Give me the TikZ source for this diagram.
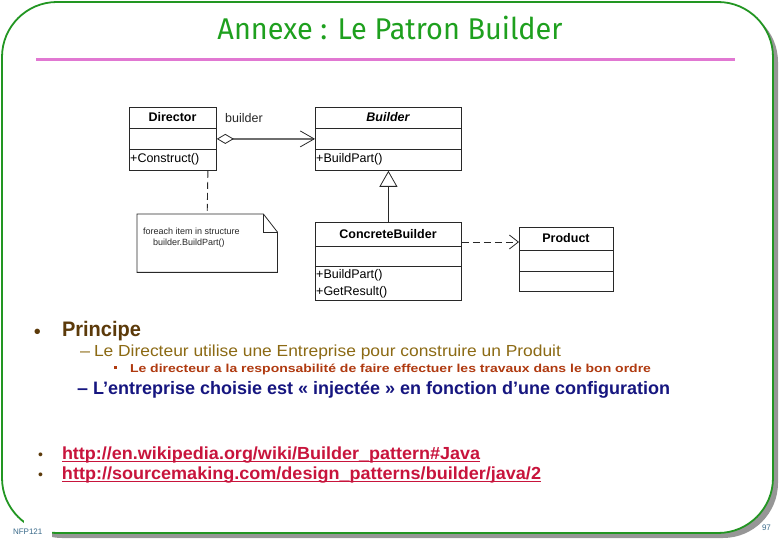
\documentclass[tikz,border=0pt]{standalone}
\usepackage{fontspec}
\setmainfont{Liberation Sans}
\newfontfamily\titlefont{Fira Sans}
\usetikzlibrary{arrows.meta,shapes.geometric}
\definecolor{framegreen}{RGB}{34,150,34}
\definecolor{titlegreen}{RGB}{30,160,30}
\definecolor{pinkline}{RGB}{225,120,210}
\definecolor{shadowgray}{RGB}{150,150,150}
\definecolor{lvlone}{RGB}{92,58,10}
\definecolor{lvltwo}{RGB}{140,106,20}
\definecolor{lvlthree}{RGB}{176,58,16}
\definecolor{navy}{RGB}{22,22,128}
\definecolor{linkred}{RGB}{200,20,60}
\definecolor{footblue}{RGB}{58,106,138}
\definecolor{umlline}{RGB}{40,40,40}
\definecolor{agggray}{RGB}{110,110,110}
\newcommand{\fitw}[2]{\resizebox{#1}{\height}{#2}}
\begin{document}
\begin{tikzpicture}[x=1pt,y=-1pt,
  txt/.style={inner sep=0pt, outer sep=0pt, anchor=base west},
  umlbox/.style={draw=umlline, line width=0.8pt, anchor=north west, inner sep=0pt, minimum width=#1},
  umlname/.style={inner sep=0pt, anchor=base, font=\fontsize{12.5}{14}\selectfont\bfseries},
  umlop/.style={inner sep=0pt, anchor=base west, font=\fontsize{12.5}{14}\selectfont},
  sepline/.style={draw=umlline, line width=0.8pt},
  agg/.style={draw=agggray, line width=2pt, {Diamond[open,length=17pt,width=10pt,line width=0.8pt,color=umlline]}-{Straight Barb[length=14pt,width=16pt,line width=0.8pt,color=umlline]}},
  gen/.style={draw=umlline, line width=0.9pt, -{Triangle[open,length=16pt,width=18pt,line width=0.8pt]}},
  dep/.style={draw=umlline, line width=0.9pt, dash pattern=on 7pt off 4pt, -{Straight Barb[length=9pt,width=14pt,line width=0.8pt]}},
  notelink/.style={draw=umlline, line width=0.9pt, dash pattern=on 7pt off 4pt},
]
\useasboundingbox (0,0) rectangle (780,540);
% frame with shadow
\fill[shadowgray, rounded corners=55pt] (7,7) rectangle (778,538);
\fill[white, rounded corners=55pt] (2,2) rectangle (773,533);
\draw[framegreen, line width=1.8pt, rounded corners=55pt] (2,2) rectangle (773,533);
\fill[white] (24,512) rectangle (52,539);
\node[txt, text=footblue, font=\fontsize{8}{9}\selectfont] (foot) at (13,534) {NFP121};
\node[txt, text=footblue, font=\fontsize{8}{9}\selectfont] (pagenum) at (762,530) {97};
% title
\node[inner sep=0pt, anchor=base, text=titlegreen, font=\titlefont\fontsize{30}{33}\selectfont] (title) at (390,40) {\fitw{345pt}{Annexe : Le Patron Builder}};
\coordinate (pinkL) at (36,60);
\coordinate (pinkR) at (735,60);
\draw[pinkline, line width=3pt] (pinkL) -- (pinkR);
% UML boxes
\node[umlbox=87pt, minimum height=63pt] (director) at (129,107) {};
\draw[sepline] (129,128) -- (216,128);
\draw[sepline] (129,149) -- (216,149);
\node[umlname] (directorT) at (172.5,121.5) {Director};
\node[umlop] (directorM) at (130,163) {+Construct()};

\node[umlbox=146pt, minimum height=63pt] (builder) at (315,107) {};
\draw[sepline] (315,128) -- (461,128);
\draw[sepline] (315,149) -- (461,149);
\node[umlname, font=\fontsize{12.5}{14}\selectfont\bfseries\itshape] (builderT) at (388,121.5) {Builder};
\node[umlop] (builderM) at (316,163) {+BuildPart()};

\node[umlbox=146pt, minimum height=78pt] (concrete) at (315,222) {};
\draw[sepline] (315,246) -- (461,246);
\draw[sepline] (315,266) -- (461,266);
\node[umlname] (concreteT) at (388,238.5) {ConcreteBuilder};
\node[umlop] (concreteM1) at (316,279) {+BuildPart()};
\node[umlop] (concreteM2) at (316,296) {+GetResult()};

\node[umlbox=94pt, minimum height=64pt] (product) at (519,227) {};
\draw[sepline] (519,250) -- (613,250);
\draw[sepline] (519,271) -- (613,271);
\node[umlname] (productT) at (566,242.5) {Product};

% note
\node[inner sep=0pt, anchor=north west, minimum width=140pt, minimum height=58pt] (note) at (137,214) {};
\draw[umlline, line width=0.8pt, fill=white] (note.north west) -- ([xshift=-14pt]note.north east) -- ([yshift=-18pt]note.north east) -- (note.south east) -- (note.south west) -- cycle;
\draw[umlline, line width=0.7pt] ([xshift=-14pt]note.north east) -- ([xshift=-14pt,yshift=-18pt]note.north east) -- ([yshift=-18pt]note.north east);
\node[txt, font=\fontsize{9}{10}\selectfont, text=umlline] (noteL1) at (143,235) {foreach item in structure};
\node[txt, font=\fontsize{9}{10}\selectfont, text=umlline] (noteL2) at (153,246) {builder.BuildPart()};

% connectors
\node[inner sep=0pt, anchor=base west, font=\fontsize{12.5}{14}\selectfont, text=umlline] (aggLabel) at (225,123) {builder};
\draw[agg] (director.east) -- (builder.west);
\draw[gen] (concrete.north) -- (builder.south);
\draw[dep] ([yshift=-20pt]concrete.north east) -- ([yshift=-15pt]product.north west);
\draw[notelink] ([xshift=35pt]director.south) -- (note.north);

% text
\node[txt, text=lvlone, font=\fontsize{20}{22}\selectfont] (b1) at (34,338) {•};
\node[txt, text=lvlone, font=\fontsize{21}{24}\selectfont\bfseries] (principe) at (62,337) {\fitw{79pt}{Principe}};
\node[txt, text=lvltwo, font=\fontsize{16}{18}\selectfont] (d1) at (80,357) {\fitw{10pt}{–}};
\node[txt, text=lvltwo, font=\fontsize{16}{18}\selectfont] (l2) at (94,357) {\fitw{467pt}{Le Directeur utilise une Entreprise pour construire un Produit}};
\fill[lvlthree] (113.5,366.5) rectangle (116.5,369.5);
\node[txt, text=lvlthree, font=\fontsize{11.5}{13}\selectfont\bfseries] (l3) at (130,372.5) {\fitw{521pt}{Le directeur a la responsabilité de faire effectuer les travaux dans le bon ordre}};
\node[txt, text=navy, font=\fontsize{18}{21}\selectfont\bfseries] (d2) at (77,394.5) {\fitw{11pt}{–}};
\node[txt, text=navy, font=\fontsize{18}{21}\selectfont\bfseries] (l4) at (93,394.5) {\fitw{577pt}{L’entreprise choisie est « injectée » en fonction d’une configuration}};
\node[txt, text=lvlone, font=\fontsize{14}{16}\selectfont] (b2) at (38,459) {•};
\node[txt, text=lvlone, font=\fontsize{14}{16}\selectfont] (b3) at (38,479) {•};
\node[txt, text=linkred, font=\fontsize{17.5}{20}\selectfont\bfseries] (link1) at (62,459) {\fitw{418pt}{http://en.wikipedia.org/wiki/Builder\_pattern\#Java}};
\node[txt, text=linkred, font=\fontsize{17.5}{20}\selectfont\bfseries] (link2) at (62,479) {\fitw{479pt}{http://sourcemaking.com/design\_patterns/builder/java/2}};
\draw[linkred, line width=1.3pt] ([yshift=-2.5pt]link1.base west) -- ([yshift=-2.5pt]link1.base east);
\draw[linkred, line width=1.3pt] ([yshift=-2.5pt]link2.base west) -- ([yshift=-2.5pt]link2.base east);
\end{tikzpicture}
\end{document}
